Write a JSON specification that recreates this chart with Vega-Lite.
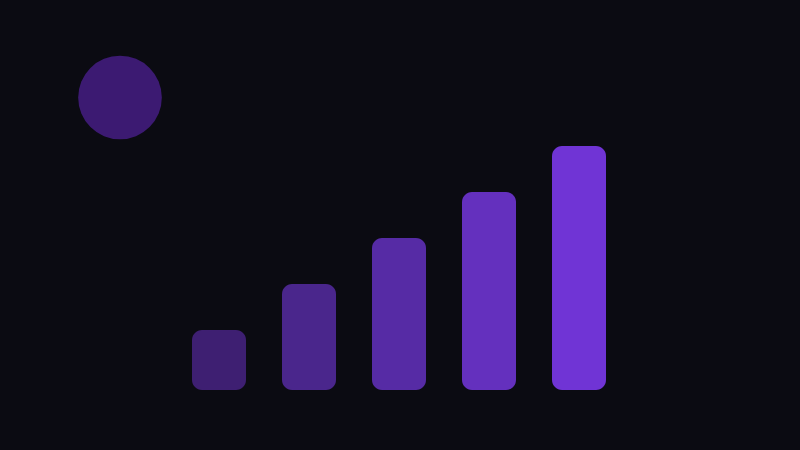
{
  "$schema": "https://vega.github.io/schema/vega-lite/v6.json",
  "autosize": {"type": "fit", "contains": "padding"},
  "width": 800,
  "height": 450,
  "padding": 0,
  "background": "#0b0b12",
  "config": {"view": {"stroke": null}},
  "datasets": {
    "bars": [
      {"bar": "A", "x0": 192, "x1": 246, "base": 0, "value": 60},
      {"bar": "B", "x0": 282, "x1": 336, "base": 0, "value": 106},
      {"bar": "C", "x0": 372, "x1": 426, "base": 0, "value": 152},
      {"bar": "D", "x0": 462, "x1": 516, "base": 0, "value": 198},
      {"bar": "E", "x0": 552, "x1": 606, "base": 0, "value": 244}
    ],
    "dot": [{"x": 120, "y": 292.5}]
  },
  "layer": [
    {
      "data": {"name": "bars"},
      "mark": {"type": "rect", "cornerRadius": 10},
      "encoding": {
        "x": {"field": "x0", "type": "quantitative", "scale": {"domain": [0, 800]}, "axis": null},
        "x2": {"field": "x1"},
        "y": {"field": "value", "type": "quantitative", "scale": {"domain": [-60, 390]}, "axis": null},
        "y2": {"field": "base"},
        "color": {
          "field": "bar",
          "type": "nominal",
          "scale": {"domain": ["A", "B", "C", "D", "E"], "range": ["#3e1f72", "#4a268c", "#562ba5", "#6430be", "#7034d5"]},
          "legend": null
        }
      }
    },
    {
      "data": {"name": "dot"},
      "mark": {"type": "point", "shape": "circle", "filled": true, "opacity": 1, "size": 7000, "color": "#3c1a72", "strokeWidth": 0},
      "encoding": {
        "x": {"field": "x", "type": "quantitative", "scale": {"domain": [0, 800]}, "axis": null},
        "y": {"field": "y", "type": "quantitative", "scale": {"domain": [-60, 390]}, "axis": null}
      }
    }
  ]
}
